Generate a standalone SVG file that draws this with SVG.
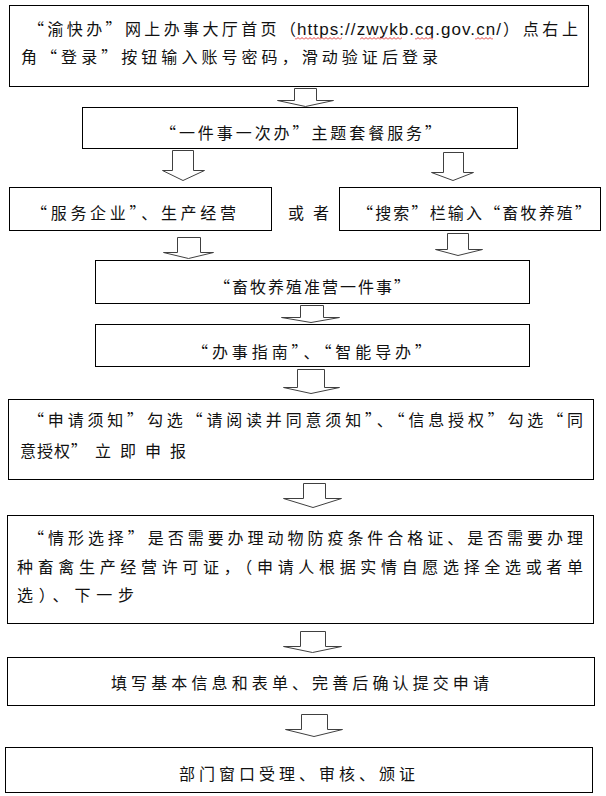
<svg xmlns="http://www.w3.org/2000/svg" width="606" height="796" viewBox="0 0 606 796">
<style>
.box{fill:#fff;stroke:#000;stroke-width:1}
.arr{fill:#fff;stroke:#404040;stroke-width:1}
.t{font-family:"Noto Sans CJK SC","Noto Sans",sans-serif;font-size:16px;fill:#111}
.u{font-family:"Liberation Sans",Arial,sans-serif;font-size:17px;fill:#111}
</style>
<defs>
<pattern id="sq" x="0" y="37" width="4" height="3" patternUnits="userSpaceOnUse">
<polyline points="0,2.5 2,0.5 4,2.5" fill="none" stroke="#e02020" stroke-width="0.9"/>
</pattern>
</defs>
<rect width="606" height="796" fill="#fff"/>
<g id="connectors">
<polygon class="arr" points="294.5,88.5 316.5,88.5 316.5,100.5 333.5,100.5 305.5,106.5 277.5,100.5 294.5,100.5"/>
<polygon class="arr" points="172.5,150.5 193.5,150.5 193.5,170.5 204.5,170.5 183,180.5 162.5,170.5 172.5,170.5"/>
<polygon class="arr" points="443.5,152.5 463.5,152.5 463.5,172.5 473.5,172.5 453,180.5 431.5,172.5 443.5,172.5"/>
<polygon class="arr" points="177.5,237.5 200.5,237.5 200.5,252.5 213.5,252.5 188.5,258.5 163.5,252.5 177.5,252.5"/>
<polygon class="arr" points="447.5,233.5 468.5,233.5 468.5,249.5 482.5,249.5 458,255.5 435.5,249.5 447.5,249.5"/>
<polygon class="arr" points="300.5,305.5 323.5,305.5 323.5,317.5 339.5,317.5 311,322.5 281.5,317.5 300.5,317.5"/>
<polygon class="arr" points="297.5,369.5 324.5,369.5 324.5,387.5 339.5,387.5 311,393.5 283.5,387.5 297.5,387.5"/>
<polygon class="arr" points="303.5,483.5 325.5,483.5 325.5,498.5 341.5,498.5 313,507.5 283.5,498.5 303.5,498.5"/>
<polygon class="arr" points="300.5,631.5 325.5,631.5 325.5,646.5 341.5,646.5 312.5,652.5 283.5,646.5 300.5,646.5"/>
<polygon class="arr" points="301.5,714.5 327.5,714.5 327.5,729.5 342.5,729.5 314,736.5 285.5,729.5 301.5,729.5"/>
</g>
<g id="n1">
<rect class="box" x="9.5" y="5.5" width="579" height="81"/>
<text class="t" x="28" y="34.5" textLength="268" lengthAdjust="spacing">“渝快办”网上办事大厅首页（</text>
<text class="u" x="297" y="35" textLength="204" lengthAdjust="spacing">https://zwykb.cq.gov.cn/</text>
<text class="t" x="503" y="34.5" textLength="75" lengthAdjust="spacing">）点右上</text>
<rect x="295" y="37" width="47" height="3" fill="url(#sq)"/>
<rect x="360" y="37" width="42" height="3" fill="url(#sq)"/>
<rect x="415" y="37" width="18" height="3" fill="url(#sq)"/>
<rect x="475" y="37" width="18" height="3" fill="url(#sq)"/>
<text class="t" x="21" y="62.5" textLength="417" lengthAdjust="spacing">角“登录”按钮输入账号密码，滑动验证后登录</text>
</g>
<g id="n2">
<rect class="box" x="82.5" y="107.5" width="435" height="41"/>
<text class="t" x="160" y="138.5" textLength="281" lengthAdjust="spacing">“一件事一次办”主题套餐服务”</text>
</g>
<g id="n3">
<rect class="box" x="9.5" y="187.5" width="262" height="43"/>
<text class="t" x="31" y="218.5" textLength="205" lengthAdjust="spacing">“服务企业”、生产经营</text>
</g>
<g id="n3or">
<text class="t" x="288" y="218.5" textLength="41" lengthAdjust="spacing">或者</text>
</g>
<g id="n4">
<rect class="box" x="339.5" y="187.5" width="261" height="43"/>
<text class="t" x="357" y="218.5" textLength="234" lengthAdjust="spacing">“搜索”栏输入“畜牧养殖”</text>
</g>
<g id="n5">
<rect class="box" x="95.5" y="260.5" width="434" height="43"/>
<text class="t" x="214" y="293" textLength="196" lengthAdjust="spacing">“畜牧养殖准营一件事”</text>
</g>
<g id="n6">
<rect class="box" x="95.5" y="324.5" width="434" height="42"/>
<text class="t" x="192" y="358" textLength="239" lengthAdjust="spacing">“办事指南”、“智能导办”</text>
</g>
<g id="n7">
<rect class="box" x="8.5" y="399.5" width="585" height="80"/>
<text class="t" x="28" y="426" textLength="555" lengthAdjust="spacing">“申请须知”勾选“请阅读并同意须知”、“信息授权”勾选“同</text>
<text class="t" x="20" y="456.5" textLength="67" lengthAdjust="spacing">意授权”</text>
<text class="t" x="95" y="456.5" textLength="91" lengthAdjust="spacing">立即申报</text>
</g>
<g id="n8">
<rect class="box" x="7.5" y="515.5" width="586" height="108"/>
<text class="t" x="28" y="543.5" textLength="555" lengthAdjust="spacing">“情形选择”是否需要办理动物防疫条件合格证、是否需要办理</text>
<text class="t" x="17" y="572.5" textLength="566" lengthAdjust="spacing">种畜禽生产经营许可证，（申请人根据实情自愿选择全选或者单</text>
<text class="t" x="17" y="601" textLength="117" lengthAdjust="spacing">选）、下一步</text>
</g>
<g id="n9">
<rect class="box" x="7.5" y="657.5" width="587" height="48"/>
<text class="t" x="111" y="689" textLength="378" lengthAdjust="spacing">填写基本信息和表单、完善后确认提交申请</text>
</g>
<g id="n10">
<rect class="box" x="5.5" y="747.5" width="587" height="45"/>
<text class="t" x="179" y="779.5" textLength="236" lengthAdjust="spacing">部门窗口受理、审核、颁证</text>
</g>
</svg>
